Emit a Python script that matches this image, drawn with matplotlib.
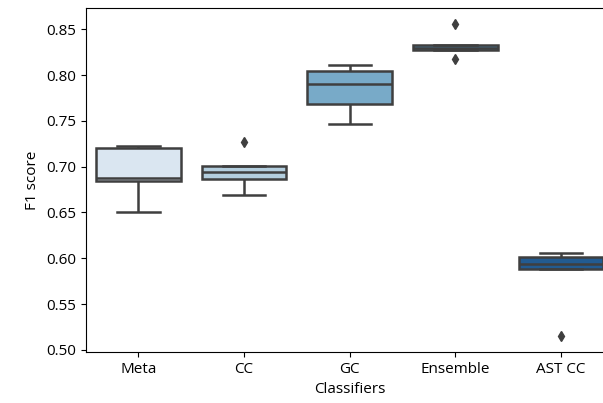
import numpy as np
import pandas as pd
import matplotlib
matplotlib.use("Agg")
import matplotlib.pyplot as plt
import seaborn as sns

classifiers = ["Meta", "CC", "GC", "Ensemble", "AST CC"]
meta_scores = [0.651, 0.684, 0.688, 0.720, 0.723]
cc_scores = [0.669, 0.686, 0.694, 0.701, 0.727]
gc_scores = [0.746, 0.768, 0.790, 0.804, 0.811]
ensemble_scores = [0.8175, 0.827, 0.830, 0.833, 0.856]
ast_cc_scores = [0.515, 0.588, 0.594, 0.601, 0.606]


def main():
    plt.rcParams["font.family"] = ["Open Sans", "DejaVu Sans"]
    plt.rcParams["font.size"] = 11
    scores = [meta_scores, cc_scores, gc_scores, ensemble_scores, ast_cc_scores]
    df = pd.DataFrame({
        "Classifiers": np.repeat(classifiers, [len(s) for s in scores]),
        "F1 score": np.concatenate(scores),
    })
    line_c = "#3f3f3f"
    fig, ax = plt.subplots(figsize=(6.03, 4.03), dpi=100)
    sns.boxplot(data=df, x="Classifiers", y="F1 score", hue="Classifiers",
                palette="Blues", legend=False, ax=ax,
                linewidth=1.8, linecolor=line_c,
                flierprops=dict(marker="d", markerfacecolor=line_c,
                                markeredgecolor=line_c, markersize=5))
    # axes runs a little past the right edge of the canvas
    fig.subplots_adjust(left=0.142, right=1.018, top=0.98, bottom=0.127)
    fig.savefig("out.png", dpi=100)


if __name__ == "__main__":
    main()
